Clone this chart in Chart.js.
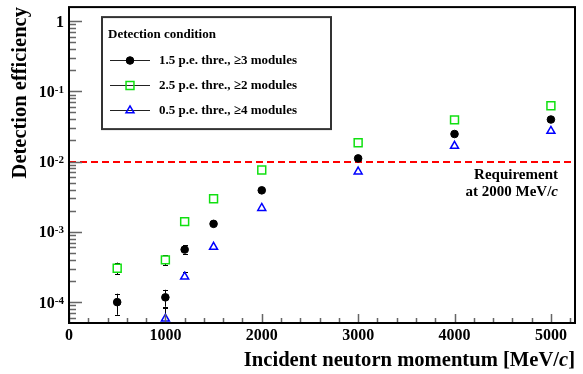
<!DOCTYPE html>
<html>
<head>
<meta charset="utf-8">
<script src="https://cdn.jsdelivr.net/npm/chart.js@4/dist/chart.umd.min.js"></script>
<style>
  html, body { margin: 0; padding: 0; background: #fff; }
  canvas { display: block; }
</style>
</head>
<body>
<canvas id="eff" width="583" height="374"></canvas>
<script>
// Incident neutron momentum points [MeV/c]
const momentum = [500, 1000, 1200, 1500, 2000, 3000, 4000, 5000];

// 1.5 p.e. threshold, >=3 modules
const eff15   = [1.0e-4, 1.17e-4, 5.6e-4, 1.3e-3, 3.9e-3, 1.11e-2, 2.47e-2, 3.97e-2];
const eff15Lo = [6.6e-5, 8.6e-5, 4.9e-4, 1.22e-3, 3.75e-3, 1.08e-2, 2.43e-2, 3.92e-2];
const eff15Hi = [1.32e-4, 1.5e-4, 6.4e-4, 1.38e-3, 4.05e-3, 1.14e-2, 2.51e-2, 4.02e-2];

// 2.5 p.e. threshold, >=2 modules
const eff25   = [3.03e-4, 4.0e-4, 1.40e-3, 2.96e-3, 7.6e-3, 1.86e-2, 3.93e-2, 6.25e-2];
const eff25Lo = [2.5e-4, 3.35e-4, 1.32e-3, 2.86e-3, 7.45e-3, 1.83e-2, 3.89e-2, 6.2e-2];
const eff25Hi = [3.65e-4, 4.63e-4, 1.48e-3, 3.06e-3, 7.75e-3, 1.89e-2, 3.97e-2, 6.3e-2];

// 0.5 p.e. threshold, >=4 modules (no entry at 500 MeV/c)
const eff05   = [null, 5.8e-5, 2.3e-4, 6.1e-4, 2.18e-3, 7.2e-3, 1.67e-2, 2.72e-2];
const eff05Lo = [null, 4.0e-5, 2.0e-4, 5.7e-4, 2.1e-3, 7.05e-3, 1.64e-2, 2.69e-2];
const eff05Hi = [null, 8.3e-5, 2.7e-4, 6.5e-4, 2.26e-3, 7.35e-3, 1.70e-2, 2.75e-2];

// Required efficiency at 2000 MeV/c
const requirement = 1e-2;

// Axis ranges and tick values
const xRange = [0, 5250];
const yRange = [5.05e-5, 1.58];
const xTicks = [0, 200, 400, 600, 800, 1000, 1200, 1400, 1600, 1800, 2000, 2200, 2400, 2600, 2800,
                3000, 3200, 3400, 3600, 3800, 4000, 4200, 4400, 4600, 4800, 5000, 5200];
const yDecades = [-4, -3, -2, -1, 0];

const SERIF = '"Liberation Serif", "DejaVu Serif", serif';

function points(ys) {
  return momentum.map((x, i) => ys[i] === null ? null : { x: x, y: ys[i] })
                 .filter(p => p !== null);
}

const series = [
  { label: '1.5 p.e. thre., \u22653 modules', y: eff15, lo: eff15Lo, hi: eff15Hi,
    style: 'circle', radius: 3.8, gap: 3.8, fill: '#000000', stroke: '#000000', width: 1 },
  { label: '2.5 p.e. thre., \u22652 modules', y: eff25, lo: eff25Lo, hi: eff25Hi,
    style: 'rect', radius: 5.6, gap: 4.2, fill: 'rgba(0,0,0,0)', stroke: '#10e010', width: 1.5 },
  { label: '0.5 p.e. thre., \u22654 modules', y: eff05, lo: eff05Lo, hi: eff05Hi,
    style: 'triangle', radius: 4.6, gap: 4.4, fill: 'rgba(0,0,0,0)', stroke: '#0000ff', width: 1.5 }
];

// Frame, ticks, error bars, requirement line and the legend box
const decor = {
  id: 'decor',
  beforeDatasetsDraw(chart) {
    const { ctx, chartArea: a, scales: { x, y } } = chart;
    ctx.save();
    ctx.beginPath();
    ctx.rect(a.left, a.top, a.right - a.left, a.bottom - a.top);
    ctx.clip();

    // requirement line
    const ry = Math.round(y.getPixelForValue(requirement));
    ctx.strokeStyle = '#ff0000';
    ctx.lineWidth = 2;
    ctx.setLineDash([7, 4]);
    ctx.beginPath();
    ctx.moveTo(a.left, ry);
    ctx.lineTo(a.right, ry);
    ctx.stroke();
    ctx.setLineDash([]);

    // error bars, left open inside the marker
    ctx.strokeStyle = '#000';
    ctx.lineWidth = 1;
    series.forEach(s => {
      momentum.forEach((m, i) => {
        if (s.y[i] === null) return;
        const px = Math.round(x.getPixelForValue(m)) + 0.5;
        const yc = y.getPixelForValue(s.y[i]);
        const y1 = y.getPixelForValue(s.lo[i]);
        const y2 = y.getPixelForValue(s.hi[i]);
        ctx.beginPath();
        if (y1 > yc + s.gap) {
          ctx.moveTo(px, yc + s.gap); ctx.lineTo(px, y1);
          ctx.moveTo(px - 2.5, Math.round(y1) + 0.5); ctx.lineTo(px + 2.5, Math.round(y1) + 0.5);
        }
        if (y2 < yc - s.gap) {
          ctx.moveTo(px, yc - s.gap); ctx.lineTo(px, y2);
          ctx.moveTo(px - 2.5, Math.round(y2) + 0.5); ctx.lineTo(px + 2.5, Math.round(y2) + 0.5);
        }
        ctx.stroke();
      });
    });
    ctx.restore();
  },
  afterDraw(chart) {
    const { ctx, chartArea: a, scales: { x, y } } = chart;
    ctx.save();

    // axis ticks, drawn inward from the frame
    ctx.strokeStyle = '#666';
    ctx.lineWidth = 1.5;
    ctx.beginPath();
    xTicks.forEach(v => {
      const px = Math.round(x.getPixelForValue(v)) + 0.5;
      const len = v % 1000 === 0 ? 9 : 5;
      ctx.moveTo(px, a.bottom); ctx.lineTo(px, a.bottom - len);
    });
    for (let e = -5; e <= 0; e++) {
      for (let k = 1; k <= 9; k++) {
        const v = k * Math.pow(10, e);
        if (v < yRange[0] || v > yRange[1]) continue;
        const py = Math.round(y.getPixelForValue(v)) + 0.5;
        const len = k === 1 ? 13 : 7;
        ctx.moveTo(a.left, py); ctx.lineTo(a.left + len, py);
      }
    }
    ctx.stroke();

    // frame
    ctx.strokeStyle = '#000';
    ctx.lineWidth = 2;
    ctx.strokeRect(a.left, a.top, a.right - a.left, a.bottom - a.top);

    // y tick labels with exponents
    ctx.fillStyle = '#000';
    ctx.textAlign = 'right';
    ctx.textBaseline = 'alphabetic';
    const labRight = a.left - 5;
    yDecades.forEach(e => {
      const py = y.getPixelForValue(Math.pow(10, e));
      if (e === 0) {
        ctx.font = 'bold 16px ' + SERIF;
        ctx.fillText('1', labRight, py + 5.5);
        return;
      }
      const sup = String(e);
      ctx.font = 'bold 11px ' + SERIF;
      const ws = ctx.measureText(sup).width;
      ctx.fillText(sup, labRight, py + 1.5);
      ctx.font = 'bold 16px ' + SERIF;
      ctx.fillText('10', labRight - ws, py + 5.5);
    });

    // x axis title with italic c
    ctx.textAlign = 'left';
    const tY = a.bottom + 43;
    const tFont = 'bold 20.6px ' + SERIF;
    const tFontI = 'italic bold 20.6px ' + SERIF;
    ctx.font = tFont;
    const tA = 'Incident neutorn momentum [MeV/';
    const tC = ']';
    const wA = ctx.measureText(tA).width;
    const wC = ctx.measureText(tC).width;
    ctx.font = tFontI;
    const wI = ctx.measureText('c').width;
    let tx = a.right - wA - wI - wC;
    ctx.font = tFont;
    ctx.fillText(tA, tx, tY);
    ctx.font = tFontI;
    ctx.fillText('c', tx + wA, tY);
    ctx.font = tFont;
    ctx.fillText(tC, tx + wA + wI, tY);

    // requirement annotation
    const rx = a.right - 17;
    ctx.font = 'bold 15px ' + SERIF;
    ctx.textAlign = 'right';
    ctx.fillText('Requirement', rx, y.getPixelForValue(requirement) + 17);
    ctx.font = 'italic bold 15px ' + SERIF;
    const wc = ctx.measureText('c').width;
    ctx.fillText('c', rx, y.getPixelForValue(requirement) + 34);
    ctx.font = 'bold 15px ' + SERIF;
    ctx.fillText('at 2000 MeV/', rx - wc, y.getPixelForValue(requirement) + 34);

    // legend box
    const lx = a.left + 33, ly = a.top + 10, lw = 229, lh = 112;
    ctx.fillStyle = '#fff';
    ctx.fillRect(lx, ly, lw, lh);
    ctx.strokeStyle = '#333';
    ctx.lineWidth = 2;
    ctx.strokeRect(lx, ly, lw, lh);
    ctx.fillStyle = '#000';
    ctx.textAlign = 'left';
    ctx.textBaseline = 'middle';
    ctx.font = 'bold 13px ' + SERIF;
    ctx.fillText('Detection condition', lx + 6, ly + 18);
    chart.data.datasets.forEach((ds, i) => {
      const ey = Math.round(ly + 43 + i * 25) + 0.5;
      ctx.strokeStyle = '#222';
      ctx.lineWidth = 1;
      ctx.beginPath();
      ctx.moveTo(lx + 8, ey);
      ctx.lineTo(lx + 48, ey);
      ctx.stroke();
      ctx.fillStyle = ds.backgroundColor;
      ctx.strokeStyle = ds.borderColor;
      ctx.lineWidth = ds.borderWidth;
      Chart.helpers.drawPoint(ctx, {
        pointStyle: ds.pointStyle, radius: ds.pointRadius, borderWidth: ds.borderWidth,
        rotation: 0
      }, lx + 28, ey);
      ctx.fillStyle = '#000';
      ctx.font = 'bold 13px ' + SERIF;
      ctx.fillText(ds.label, lx + 57, ey);
    });
    ctx.restore();
  }
};

new Chart(document.getElementById('eff'), {
  type: 'scatter',
  data: {
    datasets: series.map(s => ({
      label: s.label,
      data: points(s.y),
      pointStyle: s.style,
      pointRadius: s.radius,
      pointHoverRadius: s.radius,
      backgroundColor: s.fill,
      borderColor: s.stroke,
      borderWidth: s.width,
      showLine: false
    }))
  },
  options: {
    responsive: false,
    animation: false,
    events: [],
    layout: { padding: { left: 0, right: 8, top: 5, bottom: 0 } },
    plugins: { legend: { display: false }, tooltip: { enabled: false } },
    scales: {
      x: {
        type: 'linear', min: xRange[0], max: xRange[1],
        grid: { display: false, drawTicks: false }, border: { display: false },
        afterBuildTicks: s => { s.ticks = xTicks.map(v => ({ value: v })); },
        afterFit: s => { s.height = 51; },
        ticks: {
          autoSkip: false, maxRotation: 0, padding: 3, color: '#000',
          font: { family: SERIF, weight: 'bold', size: 16 },
          callback: v => (v % 1000 === 0 ? String(v) : '')
        }
      },
      y: {
        type: 'logarithmic', min: yRange[0], max: yRange[1],
        grid: { display: false }, border: { display: false },
        afterFit: s => { s.width = 69; },
        ticks: { display: false },
        title: {
          display: true, text: 'Detection efficiency', align: 'end', color: '#000',
          font: { family: SERIF, weight: 'bold', size: 20.5 },
          padding: { top: 8, bottom: 0 }
        }
      }
    }
  },
  plugins: [decor]
});
</script>
</body>
</html>
